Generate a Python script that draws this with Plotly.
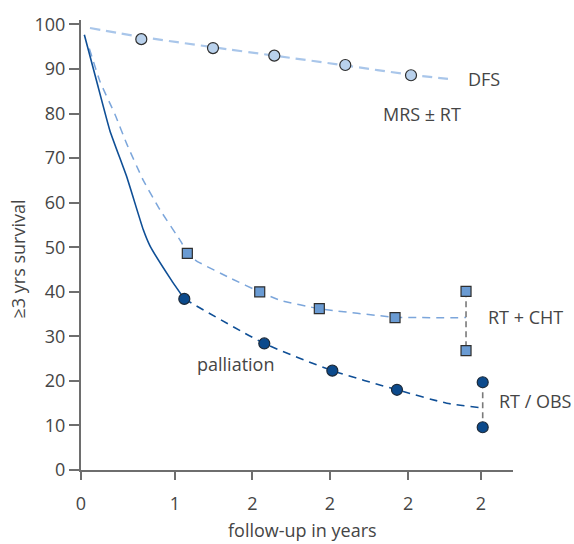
import plotly.graph_objects as go

# ---------------- data ----------------
x_tick_vals = [0, 1.21, 2.21, 3.21, 4.22, 5.16]
x_tick_text = ["0", "1", "2", "2", "2", "2"]
y_tick_vals = [0, 10, 20, 30, 40, 50, 60, 70, 80, 90, 100]

# DFS (MRS ± RT)
dfs_x = [0.778, 1.703, 2.494, 3.41, 4.258]
dfs_y = [96.7, 94.7, 93.0, 90.9, 88.6]
dfs_line_x = [0.116, 0.778, 1.703, 2.494, 3.41, 4.258, 4.735]
dfs_line_y = [99.2, 97.2, 94.9, 93.0, 90.8, 88.7, 87.8]

# RT + CHT
cht_x = [1.372, 2.306, 3.075, 4.052]
cht_y = [48.6, 40.0, 36.2, 34.2]
cht_line_x = [0.107, 0.245, 0.439, 0.59, 0.804, 1.019, 1.299, 1.372, 1.493,
              1.945, 2.306, 2.568, 3.075, 4.052, 4.968]
cht_line_y = [94.6, 87.2, 79.8, 73.2, 65.0, 58.4, 51.0, 48.6, 46.9,
              42.9, 40.0, 38.1, 36.2, 34.3, 34.2]
cht_range_x = [4.968, 4.968]
cht_range_y = [40.1, 26.8]

# palliation (solid) then RT / OBS (dashed)
pal_solid_x = [0.043, 0.203, 0.374, 0.59, 0.804, 0.89, 1.17, 1.333]
pal_solid_y = [97.7, 87.2, 76.1, 65.8, 53.9, 50.3, 42.5, 38.4]
pal_x = [1.333, 2.365, 3.243, 4.077]
pal_y = [38.4, 28.4, 22.3, 18.0]
pal_dash_x = [1.333, 2.365, 3.243, 4.077, 4.72, 5.148]
pal_dash_y = [38.4, 28.4, 22.3, 18.0, 15.0, 14.0]
obs_range_x = [5.183, 5.183]
obs_range_y = [19.7, 9.6]

# ---------------- styles ----------------
TXT = "#454545"
AX = "#6e6e6e"
LIGHT = "#a9c6ea"
LIGHT_FILL = "#b9d1ec"
MID = "#7ca6db"
MID_FILL = "#6a9bd3"
DARK = "#0f4f96"
DARK_FILL = "#0c4a8c"
GRAY = "#7a7a7a"
EDGE = "#2e2e2e"
FONT = "Open Sans"
FS = 18

fig = go.Figure()

# DFS
fig.add_trace(go.Scatter(x=dfs_line_x, y=dfs_line_y, mode="lines",
                         line=dict(color=LIGHT, width=2.2, dash="10px,6px", shape="spline", smoothing=0.6),
                         hoverinfo="skip"))
fig.add_trace(go.Scatter(x=dfs_x, y=dfs_y, mode="markers",
                         marker=dict(symbol="circle", size=11, color=LIGHT_FILL,
                                     line=dict(color=EDGE, width=1.2))))

# RT + CHT
fig.add_trace(go.Scatter(x=cht_line_x, y=cht_line_y, mode="lines",
                         line=dict(color=MID, width=1.5, dash="8px,6px", shape="spline", smoothing=0.4),
                         hoverinfo="skip"))
fig.add_trace(go.Scatter(x=cht_range_x, y=cht_range_y, mode="lines",
                         line=dict(color=GRAY, width=1.6, dash="6px,4px"), hoverinfo="skip"))
fig.add_trace(go.Scatter(x=cht_x + cht_range_x, y=cht_y + cht_range_y, mode="markers",
                         marker=dict(symbol="square", size=10, color=MID_FILL,
                                     line=dict(color=EDGE, width=1.2))))

# palliation / RT-OBS
fig.add_trace(go.Scatter(x=pal_solid_x, y=pal_solid_y, mode="lines",
                         line=dict(color=DARK, width=1.6, shape="spline", smoothing=0.4),
                         hoverinfo="skip"))
fig.add_trace(go.Scatter(x=pal_dash_x, y=pal_dash_y, mode="lines",
                         line=dict(color=DARK, width=1.6, dash="8px,6px", shape="spline", smoothing=0.6),
                         hoverinfo="skip"))
fig.add_trace(go.Scatter(x=obs_range_x, y=obs_range_y, mode="lines",
                         line=dict(color=GRAY, width=1.6, dash="6px,4px"), hoverinfo="skip"))
fig.add_trace(go.Scatter(x=pal_x + obs_range_x, y=pal_y + obs_range_y, mode="markers",
                         marker=dict(symbol="circle", size=11, color=DARK_FILL,
                                     line=dict(color="#1c2a3a", width=1.2))))

# series labels (inside the plot area -> data coords; outside -> paper coords)
labels_data = [
    ("DFS", 5.206, 87.8),
    ("MRS ± RT", 4.396, 80.0),
    ("palliation", 1.991, 23.9),
]
for t, ax_, ay_ in labels_data:
    fig.add_annotation(x=ax_, y=ay_, xref="x", yref="y", text=t, showarrow=False,
                       font=dict(family=FONT, size=FS, color=TXT),
                       xanchor="center", yanchor="middle")

labels_paper = [
    ("RT + CHT", 1.030, 0.340),
    ("RT / OBS", 1.051, 0.1535),
]
for t, px_, py_ in labels_paper:
    fig.add_annotation(x=px_, y=py_, xref="paper", yref="paper", text=t, showarrow=False,
                       font=dict(family=FONT, size=FS, color=TXT),
                       xanchor="center", yanchor="middle")

fig.add_annotation(x=0.513, y=-0.134, xref="paper", yref="paper", text="follow-up in years",
                   showarrow=False, font=dict(family=FONT, size=FS, color=TXT),
                   xanchor="center", yanchor="middle")
fig.add_annotation(x=-0.146, y=0.47, xref="paper", yref="paper", text="≥3 yrs survival",
                   showarrow=False, textangle=-90, font=dict(family=FONT, size=FS, color=TXT),
                   xanchor="center", yanchor="middle")

fig.update_layout(
    width=574, height=544,
    margin=dict(l=81, r=61, t=14, b=74, pad=0),
    paper_bgcolor="white", plot_bgcolor="white",
    showlegend=False,
    font=dict(family=FONT, size=FS, color=TXT),
)
fig.update_xaxes(range=[0, 5.574], tickvals=x_tick_vals, ticktext=x_tick_text,
                 showgrid=False, zeroline=False, showline=True, linecolor=AX, linewidth=2,
                 ticks="outside", ticklen=8, tickwidth=1.5, tickcolor=AX,
                 ticklabelstandoff=8, tickfont=dict(family=FONT, size=FS, color=TXT))
fig.update_yaxes(range=[0, 101], tickvals=y_tick_vals,
                 showgrid=False, zeroline=False, showline=True, linecolor=AX, linewidth=2,
                 ticks="outside", ticklen=10, tickwidth=1.5, tickcolor=AX,
                 tickfont=dict(family=FONT, size=FS, color=TXT))

fig.write_html("out.html", config={"displayModeBar": False},
               post_script="document.body.style.margin='0';document.body.style.overflow='hidden';")
